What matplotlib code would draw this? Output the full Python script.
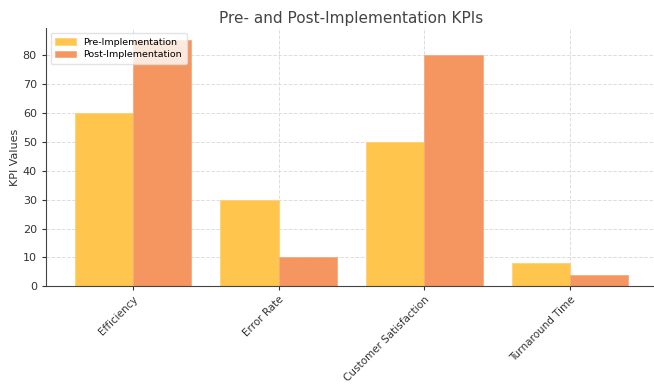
import numpy as np
import matplotlib
matplotlib.use('Agg')
import matplotlib.pyplot as plt

kpis = ['Efficiency', 'Error Rate', 'Customer Satisfaction', 'Turnaround Time']
pre_values = [60, 30, 50, 8]
post_values = [85, 10, 80, 4]

x = np.arange(len(kpis))
width = 0.4

fig = plt.figure(figsize=(6.54, 3.86), dpi=100)
ax = fig.add_axes([0.070, 0.258, 0.935, 0.669])

ax.bar(x - width / 2, pre_values, width, color='#FFC54D', edgecolor='#FFD27A',
       linewidth=0.6, label='Pre-Implementation', zorder=2)
ax.bar(x + width / 2, post_values, width, color='#F5955F', edgecolor='#F7AA80',
       linewidth=0.6, label='Post-Implementation', zorder=2)

ax.set_xlim(-0.6, 3.6)
ax.set_ylim(0, 89.25)
ax.set_yticks(range(0, 90, 10))
ax.set_xticks(x)
ax.set_xticklabels(kpis, rotation=45, ha='right', rotation_mode='anchor',
                   fontsize=7.5, color='#333333')
ax.tick_params(axis='y', labelsize=8, labelcolor='#333333', length=3, color='#333333')
ax.tick_params(axis='x', length=3, pad=2.5, color='#333333')
ax.set_ylabel('KPI Values', fontsize=8, color='#333333', labelpad=2)
ax.set_title('Pre- and Post-Implementation KPIs', fontsize=11, color='#444444', pad=4)

ax.grid(True, linestyle='--', color='#dddddd', linewidth=0.7, zorder=0)
for side in ['top', 'right']:
    ax.spines[side].set_visible(False)
for side in ['left', 'bottom']:
    ax.spines[side].set_color('#444444')

ax.legend(loc='upper left', fontsize=6.8, frameon=True, framealpha=0.8,
          edgecolor='#dddddd', handlelength=2.2, borderpad=0.5, labelspacing=0.4)

fig.savefig('out.png', dpi=100)
